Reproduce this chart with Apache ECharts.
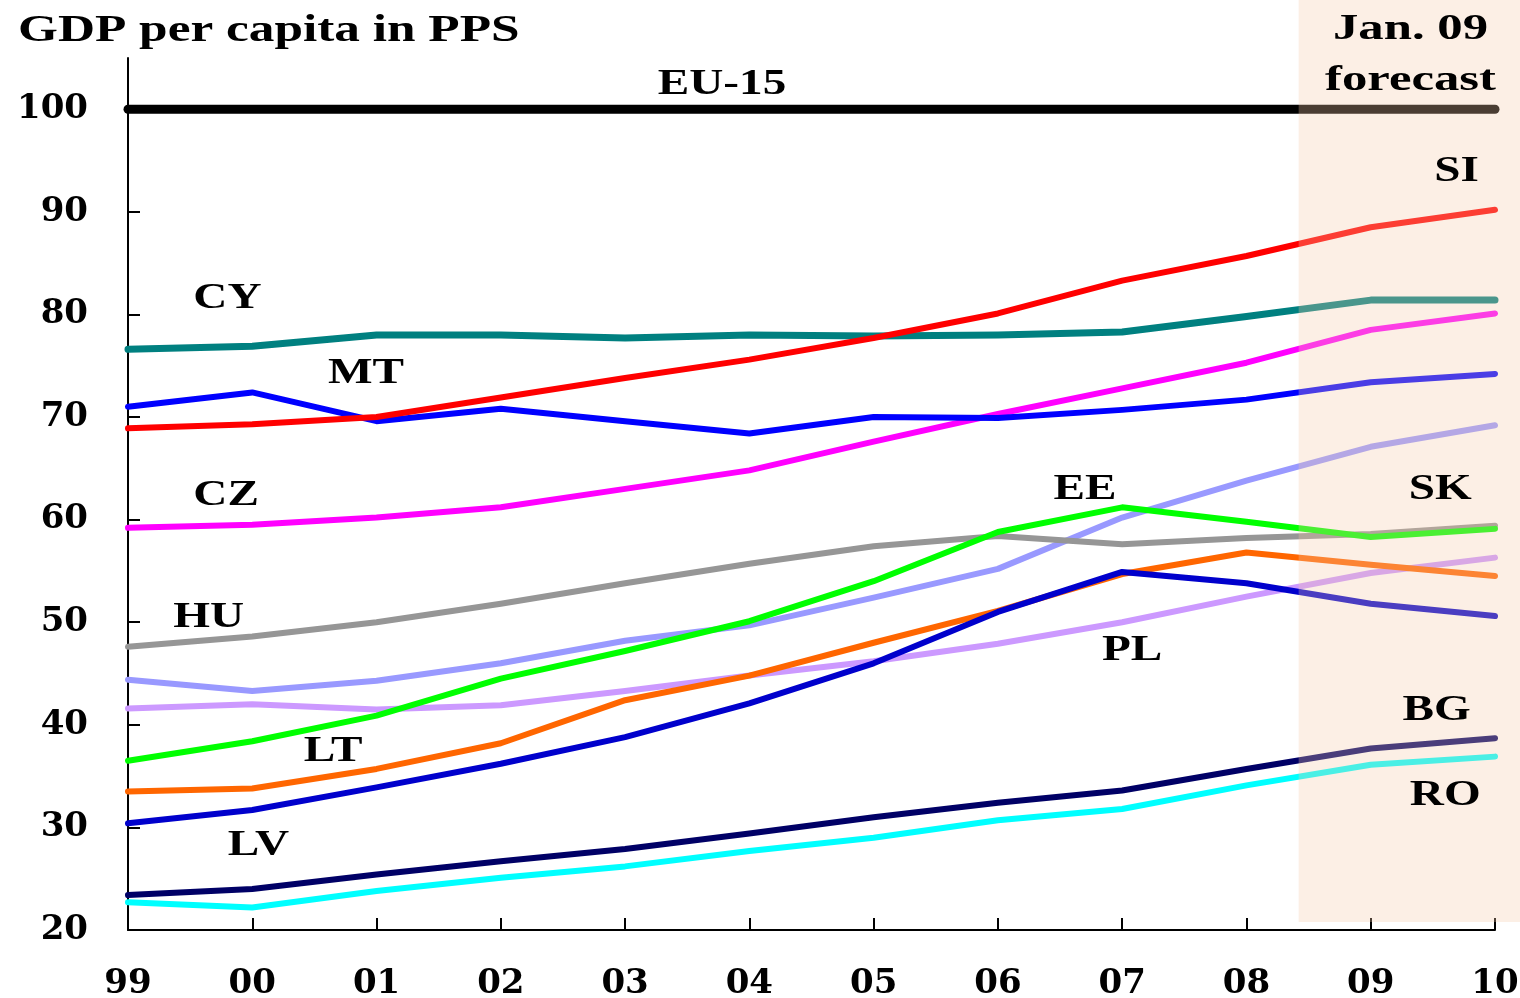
<!DOCTYPE html>
<html><head><meta charset="utf-8">
<script src="https://cdn.jsdelivr.net/npm/echarts@6/dist/echarts.min.js"></script>
<style>html,body{margin:0;padding:0;background:#fff}#c{width:1520px;height:998px}</style>
</head><body><div id="c"></div>
<script>
// ---- data ----
const tickLabels = ['99','00','01','02','03','04','05','06','07','08','09','10'];
const yTicks = [20,30,40,50,60,70,80,90,100];
const EU15 = [100,100,100,100,100,100,100,100,100,100,100,100];
const SI = [68.9, 69.3, 70.0, 71.9, 73.8, 75.6, 77.7, 80.1, 83.3, 85.7, 88.5, 90.2];
const CY = [76.6, 76.9, 78.0, 78.0, 77.7, 78.0, 77.9, 78.0, 78.3, 79.8, 81.4, 81.4];
const MT = [71.0, 72.4, 69.6, 70.8, 69.6, 68.4, 70.0, 69.9, 70.7, 71.7, 73.4, 74.2];
const CZ = [59.2, 59.5, 60.2, 61.2, 63.0, 64.8, 67.6, 70.3, 72.8, 75.3, 78.5, 80.1];
const HU = [47.6, 48.6, 50.0, 51.8, 53.8, 55.7, 57.4, 58.4, 57.6, 58.2, 58.6, 59.4];
const EE = [36.5, 38.4, 40.9, 44.5, 47.2, 50.1, 54.0, 58.8, 61.2, 59.8, 58.3, 59.1];
const SK = [44.4, 43.3, 44.3, 46.0, 48.2, 49.7, 52.4, 55.2, 60.2, 63.8, 67.1, 69.2];
const PL = [41.6, 42.0, 41.5, 41.9, 43.3, 44.8, 46.2, 47.9, 50.0, 52.5, 54.8, 56.3];
const LT = [33.5, 33.8, 35.7, 38.2, 42.4, 44.8, 48.0, 51.1, 54.7, 56.8, 55.6, 54.5];
const LV = [30.4, 31.7, 33.9, 36.2, 38.8, 42.1, 46.0, 51.0, 54.9, 53.8, 51.8, 50.6];
const BG = [23.4, 24.0, 25.4, 26.7, 27.9, 29.4, 31.0, 32.4, 33.6, 35.7, 37.7, 38.7];
const RO = [22.7, 22.2, 23.8, 25.1, 26.2, 27.7, 29.0, 30.7, 31.8, 34.1, 36.1, 36.9];
const forecastStart = 9.42; // x position (year index) where the Jan. 09 forecast shading begins

// ---- styles ----
const seriesDefs = [
  {name:'EU-15', data:EU15, color:'#000000', width:9},
  {name:'RO', data:RO, color:'#00ffff', width:6},
  {name:'BG', data:BG, color:'#000066', width:6},
  {name:'PL', data:PL, color:'#cc99ff', width:6},
  {name:'LT', data:LT, color:'#ff6600', width:6},
  {name:'LV', data:LV, color:'#0000cc', width:6},
  {name:'SK', data:SK, color:'#9999ff', width:6},
  {name:'HU', data:HU, color:'#969696', width:6},
  {name:'EE', data:EE, color:'#00ff00', width:6},
  {name:'CZ', data:CZ, color:'#ff00ff', width:6},
  {name:'MT', data:MT, color:'#0000ff', width:6},
  {name:'CY', data:CY, color:'#008080', width:7},
  {name:'SI', data:SI, color:'#ff0000', width:6}
];
const annotations = [
  {text:'EU-15', x:4.78, y:102.75},
  {text:'SI', x:10.69, y:94.3},
  {text:'CY', x:0.80, y:81.9},
  {text:'MT', x:1.915, y:74.6},
  {text:'CZ', x:0.79, y:62.7},
  {text:'EE', x:7.70, y:63.3},
  {text:'SK', x:10.56, y:63.3},
  {text:'HU', x:0.65, y:50.8},
  {text:'PL', x:8.08, y:47.6},
  {text:'LT', x:1.65, y:37.7},
  {text:'LV', x:1.05, y:28.6},
  {text:'BG', x:10.53, y:41.7},
  {text:'RO', x:10.60, y:33.5}
];
const forecastText = [
  {text:'Jan. 09', x:10.32, y:108.1},
  {text:'forecast', x:10.32, y:103.2}
];

const labelFont = 'DejaVu Serif';
const chart = echarts.init(document.getElementById('c'), null, {renderer:'canvas'});
chart.setOption({
  animation:false,
  backgroundColor:'#ffffff',
  grid:{left:128, right:25, top:58, bottom:68, containLabel:false, outerBoundsMode:'none'},
  xAxis:{
    type:'value', min:0, max:tickLabels.length-1, interval:1,
    axisLine:{show:true, lineStyle:{color:'#000', width:2}},
    axisTick:{show:true, inside:true, length:12, lineStyle:{color:'#000', width:2}},
    axisLabel:{margin:37, color:'#000', fontFamily:labelFont, fontWeight:'bold', fontSize:34,
      formatter:v=>tickLabels[Math.round(v)]},
    splitLine:{show:false}
  },
  yAxis:{
    type:'value', min:20, max:105, interval:10,
    axisLine:{show:true, lineStyle:{color:'#000', width:2}},
    axisTick:{show:true, inside:true, length:12, lineStyle:{color:'#000', width:2}, customValues:yTicks},
    axisLabel:{margin:40, color:'#000', fontFamily:labelFont, fontWeight:'bold', fontSize:34,
      customValues:yTicks, padding:[10,0,0,0]},
    splitLine:{show:false}
  },
  series: seriesDefs.map(s=>({
    name:s.name, type:'line', showSymbol:false, symbol:'none',
    data:s.data.map((v,i)=>[i,v]),
    lineStyle:{color:s.color, width:s.width, cap:'round', join:'round'},
    itemStyle:{color:s.color},
    z: 2
  }))
});

const toPx = (x,y)=>chart.convertToPixel({gridIndex:0},[x,y]);
const W = chart.getWidth();
const pStart = toPx(forecastStart, 20);
const graphics = [];
graphics.push({
  type:'rect', z:50, silent:true,
  shape:{x:pStart[0], y:0, width:W-pStart[0], height:pStart[1]-8},
  style:{fill:'rgba(245,203,168,0.3)'}
});
const annFont = 'bold 35px "Liberation Serif"';
const textDy = 4;
annotations.forEach(a=>{
  const p = toPx(a.x,a.y);
  graphics.push({type:'text', z:100, x:p[0], y:p[1]+textDy, scaleX:1.35, silent:true,
    style:{text:a.text, font:annFont, fill:'#000', align:'center', verticalAlign:'middle'}});
});
forecastText.forEach(a=>{
  const p = toPx(a.x,a.y);
  graphics.push({type:'text', z:100, x:p[0], y:p[1]+textDy, scaleX:1.45, silent:true,
    style:{text:a.text, font:annFont, fill:'#000', align:'center', verticalAlign:'middle'}});
});
graphics.push({type:'text', z:100, x:18, y:31, scaleX:1.35, silent:true,
  style:{text:'GDP per capita in PPS', font:'bold 38px "Liberation Serif"', fill:'#000', align:'left', verticalAlign:'middle'}});
chart.setOption({graphic:graphics});
</script></body></html>
